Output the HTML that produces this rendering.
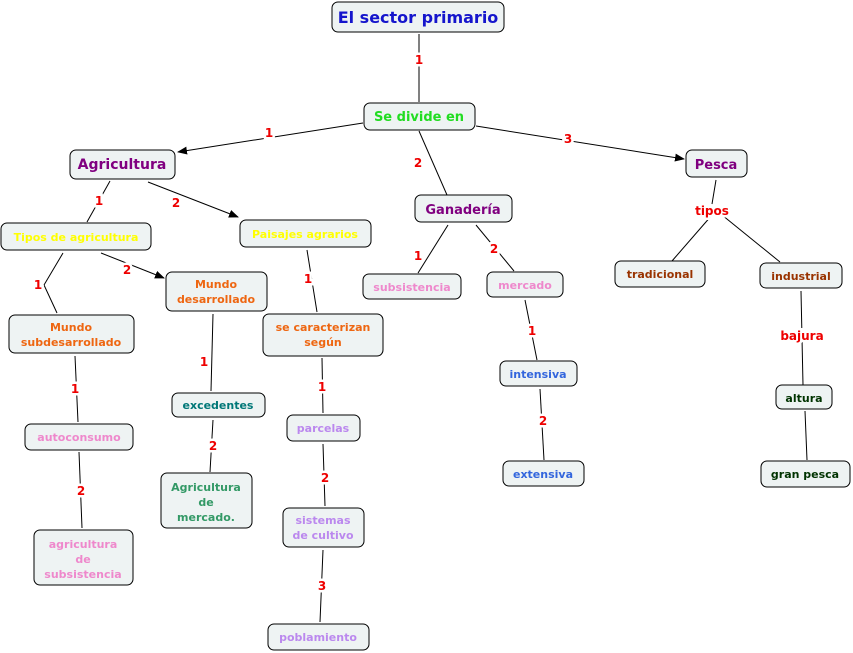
<!DOCTYPE html>
<html><head><meta charset="utf-8"><style>
body{margin:0;background:#fff}
svg{display:block}
text{font-family:"DejaVu Sans","Liberation Sans",sans-serif;font-weight:bold;text-anchor:middle}
.n{fill:#eef3f3;stroke:#000;stroke-width:1}
.l{stroke:#000;stroke-width:1;fill:none}
.lb{fill:#ee0000;font-size:12px;stroke:#fff;stroke-width:5px;paint-order:stroke}
</style></head><body>
<svg width="853" height="653" viewBox="0 0 853 653" xmlns="http://www.w3.org/2000/svg">
<defs><marker id="a" markerWidth="10" markerHeight="8" refX="9" refY="4" orient="auto" markerUnits="userSpaceOnUse"><path d="M0,0 L10,4 L0,8z" fill="#000"/></marker></defs>
<g class="l">
<line x1="419" y1="34" x2="419" y2="102"/>
<line x1="363" y1="123" x2="178" y2="152" marker-end="url(#a)"/>
<line x1="419" y1="131" x2="447" y2="195"/>
<line x1="476" y1="126" x2="684" y2="159" marker-end="url(#a)"/>
<line x1="110" y1="181" x2="87" y2="222"/>
<line x1="148" y1="182" x2="238" y2="217" marker-end="url(#a)"/>
<polyline points="63,253 44,285 57,313"/>
<line x1="101" y1="253" x2="164" y2="278" marker-end="url(#a)"/>
<line x1="307" y1="250" x2="317" y2="312"/>
<line x1="448" y1="225" x2="418" y2="273"/>
<line x1="476" y1="225" x2="514" y2="271"/>
<line x1="716" y1="180" x2="712" y2="204"/>
<line x1="712" y1="215" x2="672" y2="261"/>
<line x1="722" y1="215" x2="780" y2="262"/>
<line x1="801" y1="291" x2="803" y2="385"/>
<line x1="805" y1="411" x2="807" y2="460"/>
<line x1="525" y1="300" x2="537" y2="360"/>
<line x1="540" y1="389" x2="544" y2="460"/>
<line x1="213" y1="314" x2="211" y2="391"/>
<line x1="213" y1="420" x2="210" y2="472"/>
<line x1="75" y1="356" x2="78" y2="422"/>
<line x1="79" y1="452" x2="82" y2="528"/>
<line x1="322" y1="358" x2="323" y2="413"/>
<line x1="323" y1="444" x2="325" y2="506"/>
<line x1="323" y1="550" x2="320" y2="622"/>
</g>
<g class="lb">
<text x="419" y="64">1</text><text x="269" y="137">1</text><text x="418" y="167">2</text><text x="568" y="143">3</text>
<text x="99" y="205">1</text><text x="176" y="207">2</text><text x="38" y="289">1</text><text x="127" y="274">2</text>
<text x="308" y="283">1</text><text x="418" y="260">1</text><text x="494" y="253">2</text><text x="712" y="215">tipos</text>
<text x="802" y="340">bajura</text><text x="532" y="335">1</text><text x="543" y="425">2</text><text x="204" y="366">1</text>
<text x="213" y="450">2</text><text x="75" y="393">1</text><text x="81" y="495">2</text><text x="322" y="391">1</text>
<text x="325" y="482">2</text><text x="322" y="590">3</text>
</g>
<g>
<rect class="n" x="332" y="2" width="172" height="30" rx="6"/><text x="418" y="23" fill="#1515cc" font-size="16">El sector primario</text>
<rect class="n" x="364" y="103" width="111" height="27" rx="6"/><text x="419" y="121" fill="#22dd22" font-size="13">Se divide en</text>
<rect class="n" x="70" y="150" width="105" height="29" rx="6"/><text x="122" y="169" fill="#800080" font-size="14">Agricultura</text>
<rect class="n" x="415" y="195" width="97" height="27" rx="6"/><text x="463" y="214" fill="#800080" font-size="13">Ganadería</text>
<rect class="n" x="686" y="150" width="61" height="27" rx="6"/><text x="716" y="169" fill="#800080" font-size="13">Pesca</text>
<rect class="n" x="1" y="223" width="150" height="27" rx="6"/><text x="76" y="241" fill="#ffff00" font-size="11">Tipos de agricultura</text>
<rect class="n" x="240" y="220" width="131" height="27" rx="6"/><text x="305" y="238" fill="#ffff00" font-size="11">Paisajes agrarios</text>
<rect class="n" x="166" y="272" width="101" height="39" rx="6"/><text fill="#ee6611" font-size="11"><tspan x="216" y="288">Mundo</tspan><tspan x="216" y="303">desarrollado</tspan></text>
<rect class="n" x="9" y="315" width="125" height="38" rx="6"/><text fill="#ee6611" font-size="11"><tspan x="71" y="331">Mundo</tspan><tspan x="71" y="346">subdesarrollado</tspan></text>
<rect class="n" x="263" y="314" width="120" height="42" rx="6"/><text fill="#ee6611" font-size="11"><tspan x="323" y="331">se caracterizan</tspan><tspan x="323" y="346">según</tspan></text>
<rect class="n" x="363" y="274" width="98" height="25" rx="6"/><text x="412" y="291" fill="#ee88cc" font-size="11">subsistencia</text>
<rect class="n" x="487" y="272" width="76" height="25" rx="6"/><text x="525" y="289" fill="#ee88cc" font-size="11">mercado</text>
<rect class="n" x="615" y="261" width="90" height="26" rx="6"/><text x="660" y="278" fill="#993300" font-size="11">tradicional</text>
<rect class="n" x="760" y="263" width="82" height="25" rx="6"/><text x="801" y="280" fill="#993300" font-size="11">industrial</text>
<rect class="n" x="172" y="393" width="93" height="24" rx="6"/><text x="218" y="409" fill="#007777" font-size="11">excedentes</text>
<rect class="n" x="25" y="424" width="108" height="26" rx="6"/><text x="79" y="441" fill="#ee88cc" font-size="11">autoconsumo</text>
<rect class="n" x="34" y="530" width="99" height="55" rx="6"/><text fill="#ee88cc" font-size="11"><tspan x="83" y="548">agricultura</tspan><tspan x="83" y="563">de</tspan><tspan x="83" y="578">subsistencia</tspan></text>
<rect class="n" x="161" y="473" width="91" height="55" rx="6"/><text fill="#339966" font-size="11"><tspan x="206" y="491">Agricultura</tspan><tspan x="206" y="506">de</tspan><tspan x="206" y="521">mercado.</tspan></text>
<rect class="n" x="287" y="415" width="73" height="26" rx="6"/><text x="323" y="432" fill="#bb88ee" font-size="11">parcelas</text>
<rect class="n" x="283" y="508" width="81" height="39" rx="6"/><text fill="#bb88ee" font-size="11"><tspan x="323" y="524">sistemas</tspan><tspan x="323" y="539">de cultivo</tspan></text>
<rect class="n" x="268" y="624" width="101" height="26" rx="6"/><text x="318" y="641" fill="#bb88ee" font-size="11">poblamiento</text>
<rect class="n" x="500" y="361" width="77" height="25" rx="6"/><text x="538" y="378" fill="#3366dd" font-size="11">intensiva</text>
<rect class="n" x="503" y="461" width="81" height="25" rx="6"/><text x="543" y="478" fill="#3366dd" font-size="11">extensiva</text>
<rect class="n" x="776" y="385" width="56" height="24" rx="6"/><text x="804" y="402" fill="#003300" font-size="11">altura</text>
<rect class="n" x="761" y="461" width="89" height="26" rx="6"/><text x="805" y="478" fill="#003300" font-size="11">gran pesca</text>
</g>
</svg>
</body></html>
